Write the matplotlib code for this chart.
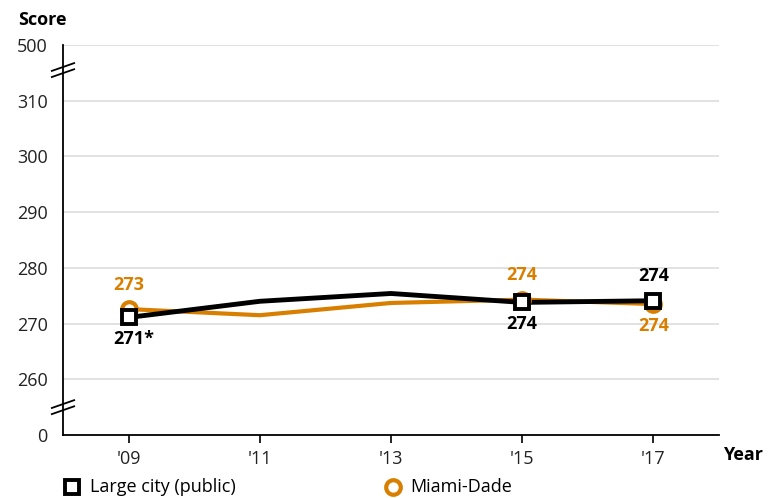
import matplotlib.pyplot as plt

plt.rcParams['font.family'] = ['Open Sans', 'DejaVu Sans']

years = [2009, 2011, 2013, 2015, 2017]
year_labels = ["'09", "'11", "'13", "'15", "'17"]
large_city = [271.1, 274.0, 275.4, 273.8, 274.1]
miami = [272.6, 271.5, 273.7, 274.3, 273.5]
tick_values = [0, 260, 270, 280, 290, 300, 310, 500]

orange = '#D97F00'


def pos(v):
    # broken axis: 0 at 0, 260..310 linear, 500 at top
    if v == 0:
        return 0
    if v == 500:
        return 7
    return (v - 260) / 10 + 1


fig = plt.figure(figsize=(7.79, 4.98), dpi=100)
ax = fig.add_axes([63 / 779, 1 - 435 / 498, (719 - 63) / 779, (435 - 45) / 498])

ax.set_xlim(2008, 2018)
ax.set_ylim(0, 7)
ax.set_yticks([pos(v) for v in tick_values])
ax.set_yticklabels([str(v) for v in tick_values], fontsize=13, color='#222222')
ax.set_xticks(years)
ax.set_xticklabels(year_labels, fontsize=13, color='#222222')
ax.tick_params(axis='y', length=0, pad=11)
ax.tick_params(axis='x', length=6, width=1.2, pad=5)
for v in tick_values[1:]:
    ax.axhline(pos(v), color='#dddddd', lw=1.2, zorder=0)
for s in ['top', 'right']:
    ax.spines[s].set_visible(False)
ax.spines['left'].set_linewidth(1.3)
ax.spines['bottom'].set_linewidth(1.3)

my = [pos(v) for v in miami]
ly = [pos(v) for v in large_city]
ax.plot(years, my, color=orange, lw=3.0, zorder=3)
ax.plot(years, ly, color='black', lw=3.5, zorder=4)
mk = [0, 3, 4]
ax.plot([years[i] for i in mk], [my[i] for i in mk], 'o', ms=10.5, mfc='white',
        mec=orange, mew=3, zorder=5, ls='none')
ax.plot([years[i] for i in mk], [ly[i] for i in mk], 's', ms=10.5, mfc='white',
        mec='black', mew=2.8, zorder=6, ls='none')

# value labels
ax.annotate('273', (years[0], my[0]), xytext=(0, 11), textcoords='offset points',
            ha='center', va='bottom', fontsize=13, fontweight='bold', color=orange)
ax.annotate('271*', (years[0], ly[0]), xytext=(4, -9), textcoords='offset points',
            ha='center', va='top', fontsize=13, fontweight='bold', color='black')
ax.annotate('274', (years[3], my[3]), xytext=(0, 11), textcoords='offset points',
            ha='center', va='bottom', fontsize=13, fontweight='bold', color=orange)
ax.annotate('274', (years[3], ly[3]), xytext=(0, -9), textcoords='offset points',
            ha='center', va='top', fontsize=13, fontweight='bold', color='black')
ax.annotate('274', (years[4], ly[4]), xytext=(0, 11), textcoords='offset points',
            ha='center', va='bottom', fontsize=13, fontweight='bold', color='black')
ax.annotate('274', (years[4], my[4]), xytext=(0, -9), textcoords='offset points',
            ha='center', va='top', fontsize=13, fontweight='bold', color=orange)

# axis break marks
for yb in [6.55, 0.5]:
    for dy in [-0.055, 0.055]:
        ax.plot([-0.017, 0.017], [yb + dy - 0.07, yb + dy + 0.07],
                transform=ax.get_yaxis_transform(), color='black', lw=1.3,
                clip_on=False, zorder=7)

fig.text(18 / 779, 1 - 20 / 498, 'Score', fontsize=13, fontweight='bold', va='center')
fig.text(723 / 779, 1 - 455 / 498, 'Year', fontsize=13, fontweight='bold', va='center')

# legend
fig.lines.append(plt.Line2D([72 / 779], [1 - 487 / 498], marker='s', ms=10.5, mfc='white',
                            mec='black', mew=2.8, transform=fig.transFigure, ls='none'))
fig.text(90 / 779, 1 - 487 / 498, 'Large city (public)', fontsize=13, va='center')
fig.lines.append(plt.Line2D([393 / 779], [1 - 487 / 498], marker='o', ms=10.5, mfc='white',
                            mec=orange, mew=3, transform=fig.transFigure, ls='none'))
fig.text(410 / 779, 1 - 487 / 498, 'Miami-Dade', fontsize=13, va='center')

fig.savefig('out.png', dpi=100)
